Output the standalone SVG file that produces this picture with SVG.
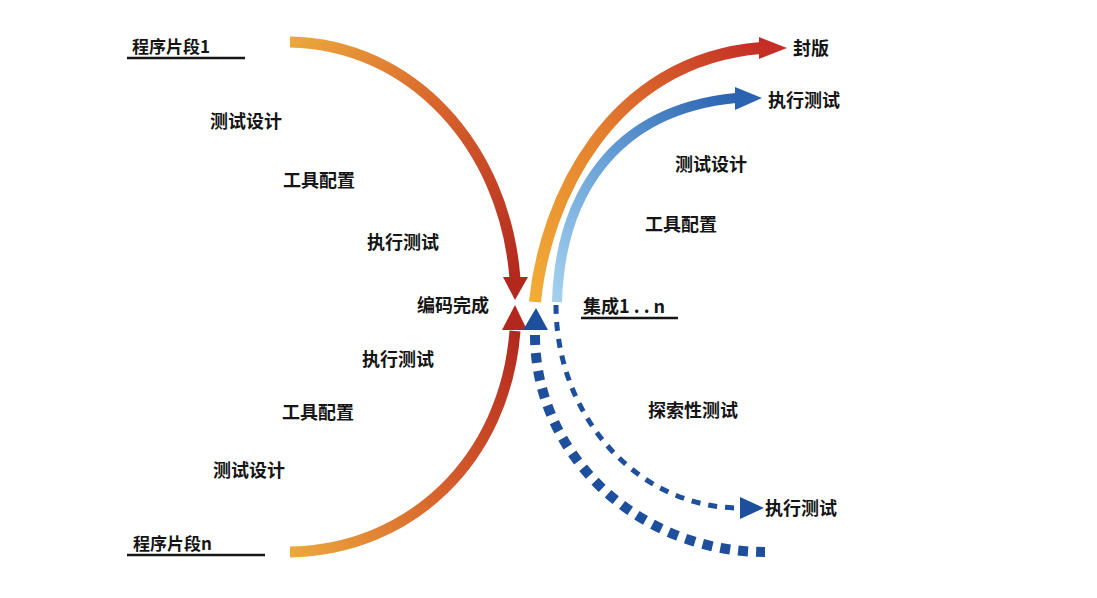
<svg xmlns="http://www.w3.org/2000/svg" width="1097" height="598" viewBox="0 0 1097 598">
  <style>
    .t { font-family: "Noto Sans CJK SC", "Liberation Sans", sans-serif; font-weight: 700; font-size: 18px; fill: #151515; }
    .t2 { font-size: 17px; }
    .ul { stroke: #151515; stroke-width: 2.5; fill: none; }
    .arc { fill: none; stroke-linecap: butt; }
    .dash { fill: none; stroke: #1e4f9c; }
  </style>
  <defs>
    <linearGradient id="gTL" gradientUnits="userSpaceOnUse" x1="290" y1="42" x2="516" y2="280">
      <stop offset="0" stop-color="#eba83c"/>
      <stop offset="0.45" stop-color="#d8642c"/>
      <stop offset="1" stop-color="#b3271f"/>
    </linearGradient>
    <linearGradient id="gBL" gradientUnits="userSpaceOnUse" x1="290" y1="552" x2="515" y2="330">
      <stop offset="0" stop-color="#eba83c"/>
      <stop offset="0.45" stop-color="#d8642c"/>
      <stop offset="1" stop-color="#b3271f"/>
    </linearGradient>
    <linearGradient id="gTR" gradientUnits="userSpaceOnUse" x1="535" y1="302" x2="760" y2="48">
      <stop offset="0" stop-color="#f2ad36"/>
      <stop offset="0.5" stop-color="#e4802f"/>
      <stop offset="1" stop-color="#c42e26"/>
    </linearGradient>
    <linearGradient id="gB" gradientUnits="userSpaceOnUse" x1="557" y1="302" x2="735" y2="98">
      <stop offset="0" stop-color="#a4d1ee"/>
      <stop offset="0.5" stop-color="#6aa3d8"/>
      <stop offset="1" stop-color="#2a63b0"/>
    </linearGradient>
  </defs>
  <rect width="1097" height="598" fill="#ffffff"/>

  <g id="connectors">
    <!-- top-left arc to 编码完成 -->
    <path class="arc" d="M290,42 C410,44 505,145 515,279" stroke="url(#gTL)" stroke-width="11"/>
    <polygon points="503,277 528,277 515,300" fill="#b3271f"/>
    <!-- bottom-left arc to 编码完成 -->
    <path class="arc" d="M290,552 C410,550 505,460 515,331" stroke="url(#gBL)" stroke-width="11"/>
    <polygon points="502,330 527,330 515,305" fill="#b3271f"/>
    <!-- top-right orange arc to 封版 -->
    <path class="arc" d="M535,302 C545,200 610,60 761,48" stroke="url(#gTR)" stroke-width="12"/>
    <polygon points="759,37 759,59 787,48" fill="#c42e26"/>
    <!-- blue arc to 执行测试 -->
    <path class="arc" d="M557,302 C560,200 610,110 736,98" stroke="url(#gB)" stroke-width="10"/>
    <polygon points="735,87 735,110 762,98" fill="#2a63b0"/>
    <!-- blue up arrowhead -->
    <polygon points="523,330 548,330 536,308" fill="#1e4f9c"/>
    <!-- dashed inner to 执行测试 -->
    <path class="dash" d="M556,305 A184,203 0 0 0 740,508" stroke-width="5" stroke-dasharray="9 8"/>
    <polygon points="740,497 740,519 764,508" fill="#1e4f9c"/>
    <!-- dashed outer -->
    <path class="dash" d="M535,335 A230,217 0 0 0 765,552" stroke-width="10" stroke-dasharray="10 8"/>
  </g>

  <g id="seg1">
    <text class="t t2" x="132" y="53">程序片段1</text>
    <line class="ul" x1="127" y1="58" x2="245" y2="58"/>
  </g>
  <g id="segn">
    <text class="t t2" x="133" y="550">程序片段n</text>
    <line class="ul" x1="127" y1="555" x2="265" y2="555"/>
  </g>
  <g id="tl-design"><text class="t" x="210" y="128">测试设计</text></g>
  <g id="tl-tool"><text class="t" x="283" y="187">工具配置</text></g>
  <g id="tl-exec"><text class="t" x="367" y="249">执行测试</text></g>
  <g id="coding-done"><text class="t" x="417" y="312">编码完成</text></g>
  <g id="bl-exec"><text class="t" x="362" y="366">执行测试</text></g>
  <g id="bl-tool"><text class="t" x="282" y="419">工具配置</text></g>
  <g id="bl-design"><text class="t" x="213" y="477">测试设计</text></g>
  <g id="release"><text class="t" x="793" y="55">封版</text></g>
  <g id="tr-exec"><text class="t" x="768" y="107">执行测试</text></g>
  <g id="r-design"><text class="t" x="675" y="171">测试设计</text></g>
  <g id="r-tool"><text class="t" x="645" y="231">工具配置</text></g>
  <g id="integration">
    <text class="t" x="583" y="313">集成1 . . n</text>
    <line class="ul" x1="581" y1="318" x2="678" y2="318"/>
  </g>
  <g id="explore"><text class="t" x="648" y="417">探索性测试</text></g>
  <g id="br-exec"><text class="t" x="765" y="515">执行测试</text></g>
</svg>
